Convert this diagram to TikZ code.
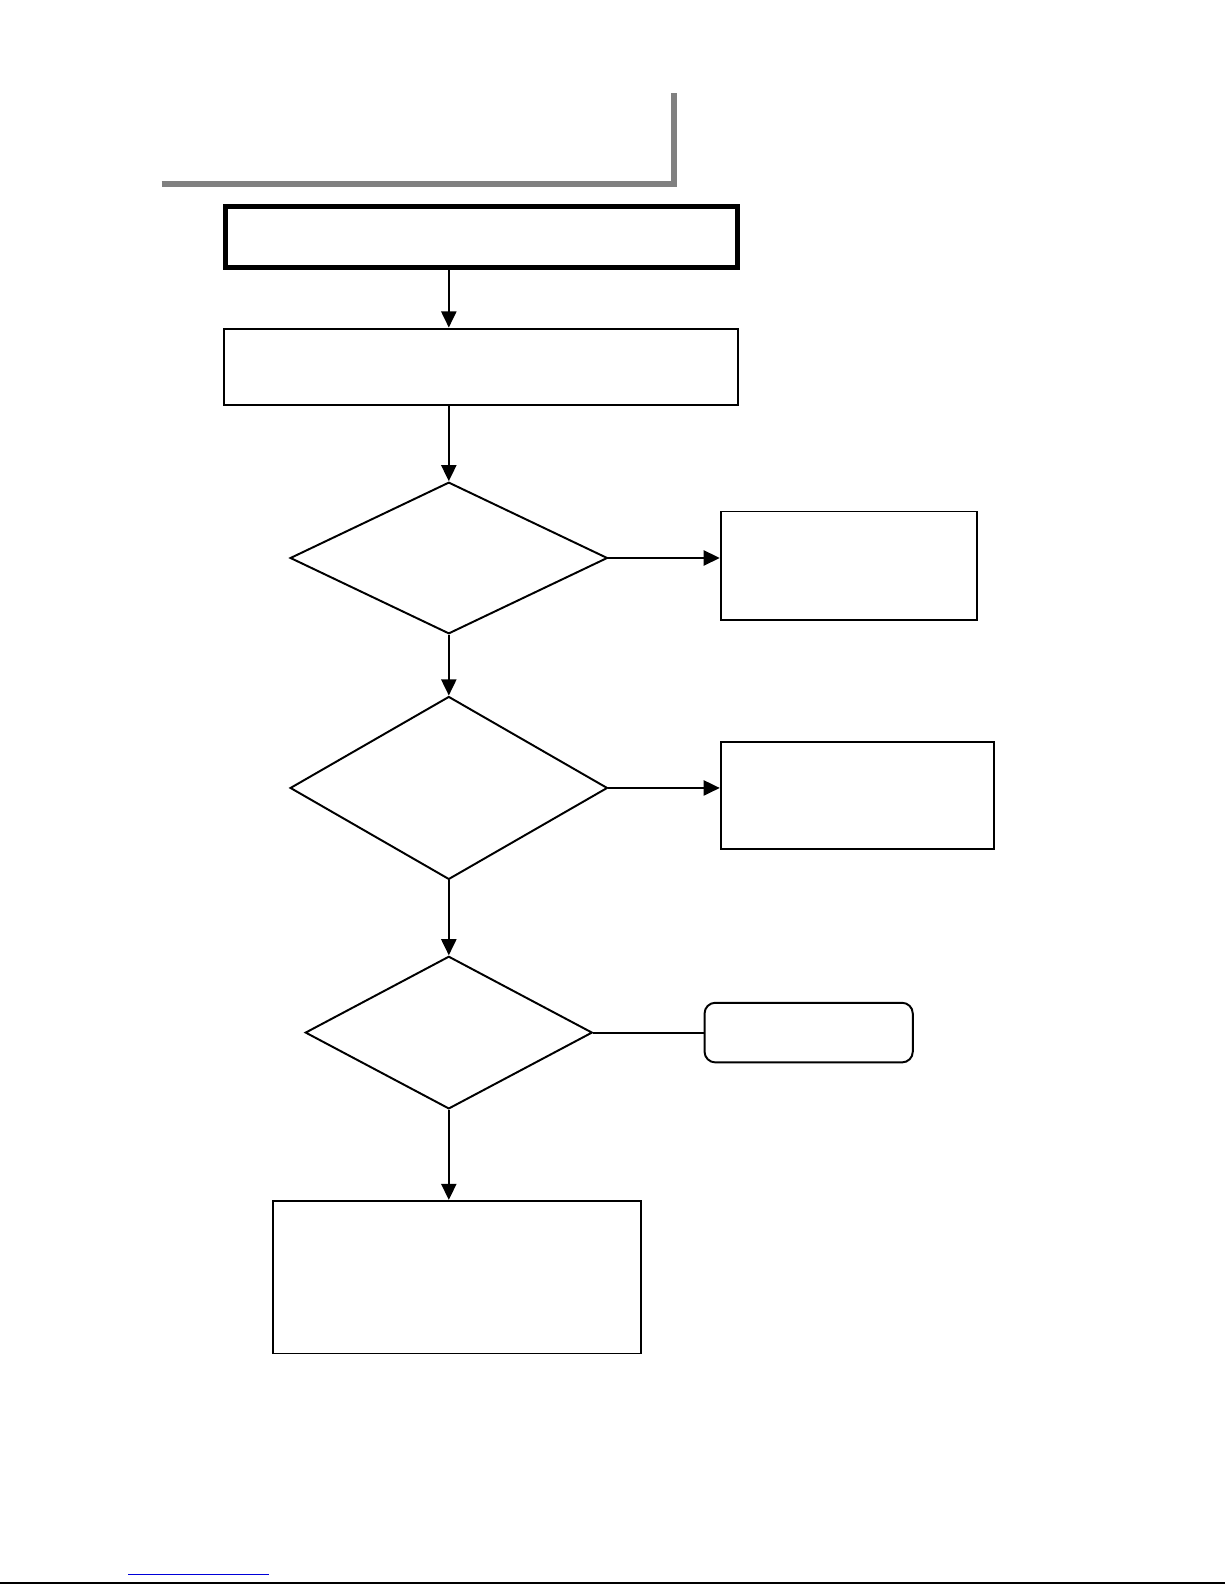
\documentclass[tikz,border=0pt]{standalone}
\usepackage{tikz}
\usetikzlibrary{arrows.meta,shapes.geometric}

\begin{document}
\begin{tikzpicture}[x=0.02cm, y=-0.02cm, line width=1.1pt, >={Triangle[length=3.2mm, width=3mm]},
	stepbox/.style={draw, rectangle, inner sep=0pt},
	testbox/.style={draw, diamond, inner sep=0pt}]
	\useasboundingbox (0,0) rectangle (1212,1568);
	% header bar
	\draw[gray, line width=3.6pt] (160,182) -- (667,182) -- (667,92);
	\node[stepbox, line width=2.8pt, minimum width=10.13cm, minimum height=1.21cm] (top) at (476.5,234.5) {};
	\node[stepbox, minimum width=10.16cm, minimum height=1.52cm] (prep) at (476,363) {};
	\node[testbox, minimum width=6.28cm, minimum height=3.0cm] (qa) at (444,552) {};
	\node[stepbox, minimum width=5.08cm, minimum height=2.14cm] (outa) at (840,559.5) {};
	\node[testbox, minimum width=6.28cm, minimum height=3.62cm] (qb) at (444,779.5) {};
	\node[stepbox, minimum width=5.4cm, minimum height=2.12cm] (outb) at (848,787) {};
	\node[testbox, minimum width=5.68cm, minimum height=3.02cm] (qc) at (444,1021.5) {};
	\node[stepbox, rounded corners=6pt, minimum width=4.12cm, minimum height=1.18cm] (outc) at (800,1021.5) {};
	\node[stepbox, minimum width=7.28cm, minimum height=3.02cm] (final) at (452,1263.5) {};
	% connectors
	\draw[->] (top.south -| qa.north) -- (prep.north -| qa.north);
	\draw[->] (prep.south -| qa.north) -- (qa.north);
	\draw[->] (qa.east) -- (outa.west |- qa.east);
	\draw[->] (qa.south) -- (qb.north);
	\draw[->] (qb.east) -- (outb.west |- qb.east);
	\draw[->] (qb.south) -- (qc.north);
	\draw (qc.east) -- (outc.west);
	\draw[->] (qc.south) -- (final.north -| qc.south);
	% page footer
	\draw[blue!85!black, line width=0.6pt] (127,1558) -- (266,1558);
	\draw[line width=1.2pt] (0,1566) -- (1212,1566);
\end{tikzpicture}
\end{document}
